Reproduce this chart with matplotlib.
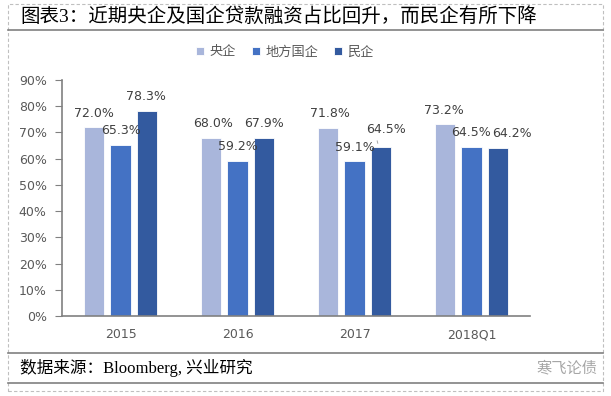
import matplotlib.pyplot as plt
import numpy as np
from matplotlib.lines import Line2D
from matplotlib.patches import Rectangle

plt.rcParams['font.family'] = ['Noto Sans CJK SC', 'DejaVu Sans']

categories = ['2015', '2016', '2017', '2018Q1']
series_names = ['央企', '地方国企', '民企']
central_soe = [72.0, 68.0, 71.8, 73.2]
local_soe = [65.3, 59.2, 59.1, 64.5]
private = [78.3, 67.9, 64.5, 64.2]
colors = ['#A9B6DB', '#4472C4', '#335A9F']
yticks = list(range(0, 91, 10))

W, H = 611, 396
fig = plt.figure(figsize=(W / 100, H / 100), dpi=100)


def fx(px):
    return px / W


def fy(py):
    return 1 - py / H


# frame: dashed outer border and solid separator lines
border = Rectangle((fx(8), fy(391)), fx(603) - fx(8), fy(4) - fy(391),
                   transform=fig.transFigure, fill=False, edgecolor='#BFBFBF',
                   linestyle=(0, (3, 2)), linewidth=0.8)
fig.add_artist(border)
for yy in (30, 353, 383):
    fig.add_artist(Line2D([fx(8), fx(603)], [fy(yy), fy(yy)],
                          transform=fig.transFigure, color='#808080', linewidth=1.2))

fig.text(fx(20), fy(17), '图表3：近期央企及国企贷款融资占比回升，而民企有所下降',
         family=['Liberation Serif', 'Noto Sans CJK SC'], fontsize=14,
         va='center', ha='left', color='black')
fig.text(fx(20), fy(368), '数据来源：Bloomberg, 兴业研究',
         family=['Liberation Serif', 'Noto Sans CJK SC'], fontsize=12,
         va='center', ha='left', color='black')
fig.text(fx(597), fy(368), '寒飞论债', fontsize=11, va='center', ha='right',
         color='#A6A6A6')

ax = fig.add_axes([fx(62), fy(316), fx(530) - fx(62), fy(80) - fy(316)])

x = np.arange(len(categories))
offset = 0.225
width = 0.175
all_series = [central_soe, local_soe, private]
for i, vals in enumerate(all_series):
    ax.bar(x + (i - 1) * offset, vals, width, color=colors[i],
           edgecolor='white', linewidth=0.6, label=series_names[i], zorder=2)

# label nudges in pixels (dx, dy)
nudges = [
    [(0, 14), (2, 14), (2, 14), (-1, 14)],
    [(0, 14), (0, 14), (0, 14), (0, 14)],
    [(-1, 14), (0, 14), (5, 17), (14, 14)],
]
for i, vals in enumerate(all_series):
    for j, v in enumerate(vals):
        xc = x[j] + (i - 1) * offset
        dx, dy = nudges[i][j]
        ax.annotate(f'{v:.1f}%', (xc, v), xytext=(dx, dy), textcoords='offset pixels',
                    ha='center', va='center', fontsize=9, color='#404040',
                    family='DejaVu Sans')

# leader line for the 2017 private label
ax.annotate('', (x[2] + offset - 0.02, private[2] + 0.3), xytext=(-2, 8),
            textcoords='offset pixels',
            arrowprops=dict(arrowstyle='-', color='#A6A6A6', linewidth=0.7))

ax.set_xlim(-0.5, len(categories) - 0.5)
ax.set_ylim(0, 90)
ax.set_yticks(yticks)
ax.set_yticklabels([f'{t}%' for t in yticks], family='DejaVu Sans')
ax.set_xticks(x)
ax.set_xticklabels(categories, family='DejaVu Sans')
ax.tick_params(axis='y', direction='out', length=5, color='#808080',
               labelsize=9, labelcolor='#595959', pad=6)
ax.tick_params(axis='x', length=0, labelsize=9, labelcolor='#595959', pad=9)
for s in ('top', 'right'):
    ax.spines[s].set_visible(False)
for s in ('left', 'bottom'):
    ax.spines[s].set_color('#808080')
    ax.spines[s].set_linewidth(1.2)

fig.legend(loc='center', bbox_to_anchor=(fx(285), fy(52)), ncol=3,
           frameon=False, fontsize=9.5, handlelength=0.6, handleheight=0.6,
           handletextpad=0.4, columnspacing=1.2, labelcolor='#595959')

fig.savefig('out.png', dpi=100)
